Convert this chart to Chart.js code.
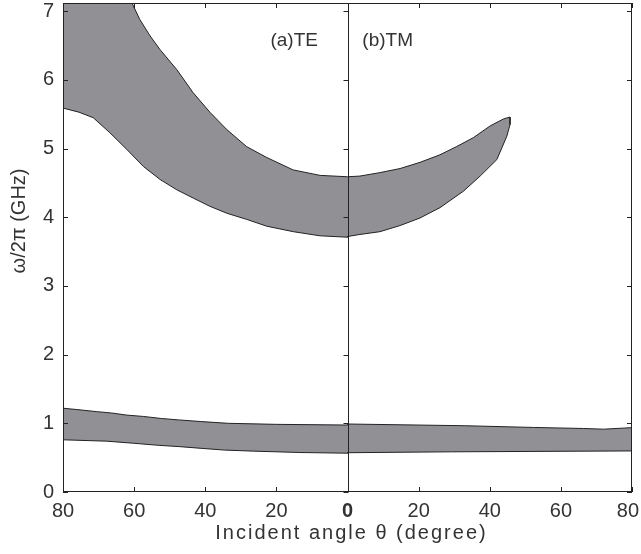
<!DOCTYPE html>
<html>
<head>
<meta charset="utf-8">
<script src="https://cdn.jsdelivr.net/npm/chart.js@4.4.1/dist/chart.umd.min.js"></script>
<style>
  html, body { margin: 0; padding: 0; background: #ffffff; }
  canvas { display: block; }
</style>
</head>
<body>
<canvas id="c" width="641" height="554"></canvas>
<script>
// ---- data (angle in degrees, frequency in GHz) ----
// Upper gap, TE (left panel)
const teHighUpperAngle = [80, 75, 70, 65, 60.7, 58.4, 55.5, 52.7, 48, 43.5, 38.7, 34, 28.4, 22.7, 15.3, 7.7, 0];
const teHighUpperFreq  = [9.6, 8.9, 8.2, 7.6, 7.13, 6.88, 6.64, 6.44, 6.15, 5.82, 5.53, 5.28, 5.03, 4.87, 4.69, 4.61, 4.59];
const teHighLowerAngle = [80, 75.5, 71.5, 66.8, 62.1, 57.4, 52.7, 48, 43.4, 38.7, 34, 28.4, 22.7, 15.2, 7.7, 0];
const teHighLowerFreq  = [5.59, 5.53, 5.45, 5.23, 4.99, 4.74, 4.55, 4.40, 4.28, 4.16, 4.06, 3.97, 3.87, 3.79, 3.73, 3.71];
// Upper gap, TM (right panel)
const tmHighUpperAngle = [0, 3.5, 9.1, 14.8, 20.4, 26, 30.7, 35.4, 40.1, 43.8, 45.7];
const tmHighUpperFreq  = [4.59, 4.60, 4.65, 4.71, 4.80, 4.91, 5.03, 5.16, 5.33, 5.43, 5.46];
const tmHighLowerAngle = [0, 3.5, 9.1, 14.8, 20.4, 26, 32.6, 37.3, 42, 44.8, 45.7];
const tmHighLowerFreq  = [3.72, 3.75, 3.79, 3.88, 3.99, 4.14, 4.38, 4.60, 4.84, 5.18, 5.35];
// Lower gap, TE
const teLowUpperAngle = [80, 76, 70.5, 66.3, 62.1, 57.4, 52.3, 47.6, 41, 33.5, 19.9, 0];
const teLowUpperFreq  = [1.22, 1.20, 1.17, 1.15, 1.12, 1.10, 1.07, 1.05, 1.025, 1.00, 0.985, 0.975];
const teLowLowerAngle = [80, 67.7, 60.2, 53.2, 47.1, 41, 34.5, 26.5, 13.4, 0];
const teLowLowerFreq  = [0.76, 0.74, 0.71, 0.68, 0.66, 0.635, 0.61, 0.595, 0.575, 0.565];
// Lower gap, TM
const tmLowUpperAngle = [0, 33, 52.3, 66.3, 72, 80];
const tmLowUpperFreq  = [0.99, 0.965, 0.94, 0.925, 0.915, 0.937];
const tmLowLowerAngle = [0, 29.3, 80];
const tmLowLowerFreq  = [0.572, 0.585, 0.598];
// Axis ticks and labels
const xTicks = [-80, -60, -40, -20, 0, 20, 40, 60, 80];
const yTicks = [0, 1, 2, 3, 4, 5, 6, 7];
const panelLabels = ['(a)TE', '(b)TM'];
const xTitle = 'Incident angle \u03b8 (degree)';
const yTitle = '\u03c9/2\u03c0 (GHz)';

// ---- build closed outlines (TE drawn on the mirrored, negative side) ----
function pts(angles, freqs, sign) {
  return angles.map((a, i) => ({ x: sign * a, y: freqs[i] }));
}
function closeShape(parts) {
  const p = [].concat(...parts);
  p.push({ x: p[0].x, y: p[0].y });
  return p;
}
const highBand = closeShape([
  pts(teHighUpperAngle, teHighUpperFreq, -1),
  pts(tmHighUpperAngle, tmHighUpperFreq, 1),
  pts(tmHighLowerAngle, tmHighLowerFreq, 1).reverse(),
  pts(teHighLowerAngle, teHighLowerFreq, -1).reverse()
]);
const lowBand = closeShape([
  pts(teLowUpperAngle, teLowUpperFreq, -1),
  pts(tmLowUpperAngle, tmLowUpperFreq, 1),
  pts(tmLowLowerAngle, tmLowLowerFreq, 1).reverse(),
  pts(teLowLowerAngle, teLowLowerFreq, -1).reverse()
]);

const FONT = '"Liberation Sans", Arial, Helvetica, sans-serif';
const TXT = '#333333';
const LINE = '#222222';
const FILL = '#909095';

const framePlugin = {
  id: 'frame',
  afterDatasetsDraw(chart) {
    const { ctx, chartArea: a, scales: { x, y } } = chart;
    const W = chart.width;
    ctx.save();
    ctx.strokeStyle = LINE;
    ctx.lineWidth = 1;
    // box
    ctx.strokeRect(Math.round(a.left) + 0.5, Math.round(a.top) + 0.5,
                   Math.round(a.right - a.left) - 1, Math.round(a.bottom - a.top) - 1);
    // centre divider
    const cx = Math.round(x.getPixelForValue(0)) + 0.5;
    ctx.beginPath();
    ctx.moveTo(cx, a.top); ctx.lineTo(cx, a.bottom);
    ctx.stroke();
    // inward ticks
    const L = 5;
    ctx.beginPath();
    x.ticks.forEach(t => {
      const px = Math.round(x.getPixelForValue(t.value)) + 0.5;
      ctx.moveTo(px, a.bottom); ctx.lineTo(px, a.bottom - L);
      ctx.moveTo(px, a.top); ctx.lineTo(px, a.top + L);
    });
    y.ticks.forEach(t => {
      const py = Math.round(y.getPixelForValue(t.value)) + 0.5;
      ctx.moveTo(a.left, py); ctx.lineTo(a.left + L, py);
      ctx.moveTo(cx, py); ctx.lineTo(cx - L, py);
      ctx.moveTo(a.right, py); ctx.lineTo(a.right - L, py);
    });
    ctx.stroke();
    ctx.fillStyle = TXT;
    ctx.textAlign = 'center';
    ctx.textBaseline = 'middle';
    // x tick labels (kept inside the canvas)
    xTicks.forEach(v => {
      ctx.font = (v === 0 ? 'bold ' : '') + '20px ' + FONT;
      const s = String(Math.abs(v));
      const w = ctx.measureText(s).width;
      let px = x.getPixelForValue(v);
      px = Math.min(px, W - w / 2 - 2);
      ctx.fillText(s, px, a.bottom + 19);
    });
    // x title
    ctx.font = '20px ' + FONT;
    ctx.letterSpacing = '2px';
    ctx.fillText(xTitle, (a.left + a.right) / 2 + 4, 533);
    ctx.letterSpacing = '0px';
    // panel labels
    ctx.font = '19px ' + FONT;
    ctx.fillText(panelLabels[0], x.getPixelForValue(-15), 41);
    ctx.fillText(panelLabels[1], x.getPixelForValue(11.3), 41);
    // y title
    ctx.save();
    ctx.translate(19, 221);
    ctx.rotate(-Math.PI / 2);
    ctx.font = '20px ' + FONT;
    ctx.fillText(yTitle, 0, 0);
    ctx.restore();
    ctx.restore();
  }
};

new Chart(document.getElementById('c'), {
  type: 'scatter',
  data: {
    datasets: [
      { data: highBand, showLine: true, fill: 'shape', backgroundColor: FILL,
        borderColor: LINE, borderWidth: 1, pointRadius: 0, tension: 0, clip: 0 },
      { data: lowBand, showLine: true, fill: 'shape', backgroundColor: FILL,
        borderColor: LINE, borderWidth: 1, pointRadius: 0, tension: 0, clip: 0 }
    ]
  },
  options: {
    responsive: false,
    animation: false,
    devicePixelRatio: 1,
    layout: { autoPadding: false, padding: { top: 3, right: 9, left: 0, bottom: 0 } },
    plugins: { legend: { display: false }, tooltip: { enabled: false } },
    scales: {
      x: {
        type: 'linear', min: -80, max: 80,
        grid: { display: false, drawTicks: false },
        border: { display: false },
        afterBuildTicks: s => { s.ticks = xTicks.map(v => ({ value: v })); },
        afterFit: s => { s.height = 62; s.paddingLeft = 0; s.paddingRight = 0; },
        ticks: { display: false },
        title: { display: false }
      },
      y: {
        type: 'linear', min: 0, max: 7.12,
        grid: { display: false, drawTicks: false },
        border: { display: false },
        afterBuildTicks: s => { s.ticks = yTicks.map(v => ({ value: v })); },
        afterFit: s => { s.width = 63; s.paddingTop = 0; s.paddingBottom = 0; },
        ticks: { padding: 9, color: TXT, font: { family: FONT, size: 20 } }
      }
    }
  },
  plugins: [framePlugin]
});
</script>
</body>
</html>
